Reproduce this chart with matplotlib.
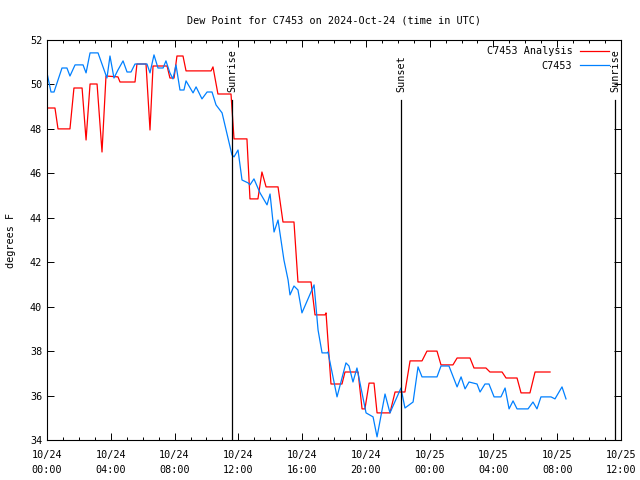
import matplotlib
matplotlib.use("Agg")
import matplotlib.pyplot as plt
from matplotlib.ticker import MultipleLocator, FixedLocator

plt.rcParams['font.family'] = ['DejaVu Sans Mono']

# hours since 2024-10-24 00:00 UTC
analysis_t = [0.00,0.50,0.69,1.44,1.69,2.20,2.45,2.70,3.14,3.45,3.70,4.45,4.58,5.52,5.64,6.21,6.46,6.65,7.53,7.71,
              7.97,8.15,8.53,8.72,10.29,10.41,10.72,11.54,11.73,12.54,12.73,13.23,13.48,13.74,14.49,14.80,15.49,15.74,16.56,16.81,
              17.44,17.50,17.81,18.50,18.69,19.51,19.76,19.94,20.20,20.51,20.70,21.51,21.83,22.45,22.77,23.52,23.83,24.46,24.71,25.46,
              25.72,26.53,26.78,27.53,27.78,28.54,28.79,29.48,29.73,30.29,30.61,31.55]
analysis_v = [48.94,48.94,48.0,48.0,49.84,49.84,47.5,50.02,50.02,46.96,50.38,50.34,50.11,50.11,50.92,50.92,47.95,50.83,50.83,50.29,
              50.29,51.28,51.28,50.61,50.61,50.79,49.57,49.57,47.55,47.55,44.85,44.85,46.06,45.39,45.39,43.81,43.81,41.11,41.11,39.63,
              39.63,39.72,36.52,36.52,37.06,37.06,35.40,35.40,36.56,36.56,35.22,35.22,36.16,36.16,37.56,37.56,38.00,38.00,37.38,37.38,
              37.69,37.69,37.24,37.24,37.06,37.06,36.79,36.79,36.12,36.12,37.06,37.06]

obs_t = [0.00,0.25,0.44,0.94,1.25,1.44,1.76,2.26,2.45,2.70,3.20,3.76,3.95,4.20,4.45,4.77,5.02,5.27,5.52,6.27,
         6.46,6.71,6.96,7.28,7.46,7.71,7.90,8.09,8.34,8.59,8.72,9.16,9.35,9.72,10.04,10.35,10.60,10.98,11.60,11.73,
         11.98,12.23,12.61,12.73,12.98,13.36,13.80,13.99,14.24,14.49,14.86,15.12,15.24,15.49,15.74,15.99,16.75,17.00,17.25,17.56,
         17.62,18.19,18.75,18.94,19.19,19.44,20.01,20.45,20.70,21.20,21.51,22.20,22.45,22.96,23.27,23.52,24.46,24.71,25.21,25.72,
         25.97,26.22,26.47,26.97,27.16,27.47,27.72,28.04,28.47,28.73,28.98,29.23,29.48,30.17,30.48,30.73,30.98,31.61,31.86,32.30,
         32.55]
obs_v = [50.52,49.66,49.66,50.74,50.74,50.38,50.88,50.88,50.52,51.42,51.42,50.29,51.28,50.29,50.65,51.06,50.56,50.56,50.92,50.92,
         50.52,51.33,50.74,50.74,51.06,50.52,50.25,50.88,49.75,49.75,50.16,49.62,49.89,49.35,49.66,49.66,49.08,48.72,46.83,46.74,
         47.05,45.70,45.57,45.48,45.75,45.12,44.58,45.07,43.36,43.90,42.10,41.20,40.53,40.93,40.75,39.72,40.98,38.95,37.92,37.92,
         37.96,35.94,37.47,37.33,36.61,37.24,35.22,35.04,34.14,36.07,35.22,36.34,35.44,35.71,37.29,36.84,36.84,37.33,37.33,36.39,
         36.84,36.30,36.61,36.52,36.16,36.52,36.52,35.94,35.94,36.34,35.40,35.76,35.40,35.40,35.71,35.40,35.94,35.94,35.85,36.39,
         35.85]

events_t = [11.60, 22.20, 35.62]
events_lbl = ["Sunrise", "Sunset", "Sunrise"]

xtick_t = [0, 4, 8, 12, 16, 20, 24, 28, 32, 36]
xtick_lbl = ["10/24\n00:00", "10/24\n04:00", "10/24\n08:00", "10/24\n12:00", "10/24\n16:00",
             "10/24\n20:00", "10/25\n00:00", "10/25\n04:00", "10/25\n08:00", "10/25\n12:00"]

fig = plt.figure(figsize=(6.4, 4.8), dpi=100)
ax = fig.add_axes([47/640, 1-440/480, (621-47)/640, 400/480])

ax.plot(analysis_t, analysis_v, color='#ff0000', lw=0.9, label='C7453 Analysis')
ax.plot(obs_t, obs_v, color='#0080ff', lw=0.9, label='C7453')

for t, lbl in zip(events_t, events_lbl):
    ax.plot([t, t], [34, 49.3], color='black', lw=0.9)
    ax.text(t + 0.05, 49.66, lbl, rotation=90, ha='center', va='bottom', fontsize=7.3)

ax.set_xlim(0, 36)
ax.set_ylim(34, 52)
ax.xaxis.set_major_locator(FixedLocator(xtick_t))
ax.set_xticklabels(xtick_lbl, linespacing=1.6)
ax.xaxis.set_minor_locator(MultipleLocator(1))
ax.yaxis.set_major_locator(MultipleLocator(2))
ax.tick_params(which='both', direction='in', top=True, right=True, labelsize=7.3, width=0.7)
ax.tick_params(which='major', length=5)
ax.tick_params(which='minor', length=2.5)
ax.tick_params(axis='x', pad=7)
for s in ax.spines.values():
    s.set_linewidth(0.8)

ax.set_ylabel('degrees F', fontsize=7.3, labelpad=10)
ax.set_title('Dew Point for C7453 on 2024-Oct-24 (time in UTC)', fontsize=7.3, pad=12)

leg = ax.legend(loc='upper right', frameon=False, markerfirst=False, fontsize=7.3,
                handlelength=2.9, handletextpad=0.7, labelspacing=0.45,
                borderpad=0, borderaxespad=0, bbox_to_anchor=(0.979, 0.984))

fig.savefig('out.png', dpi=100)
